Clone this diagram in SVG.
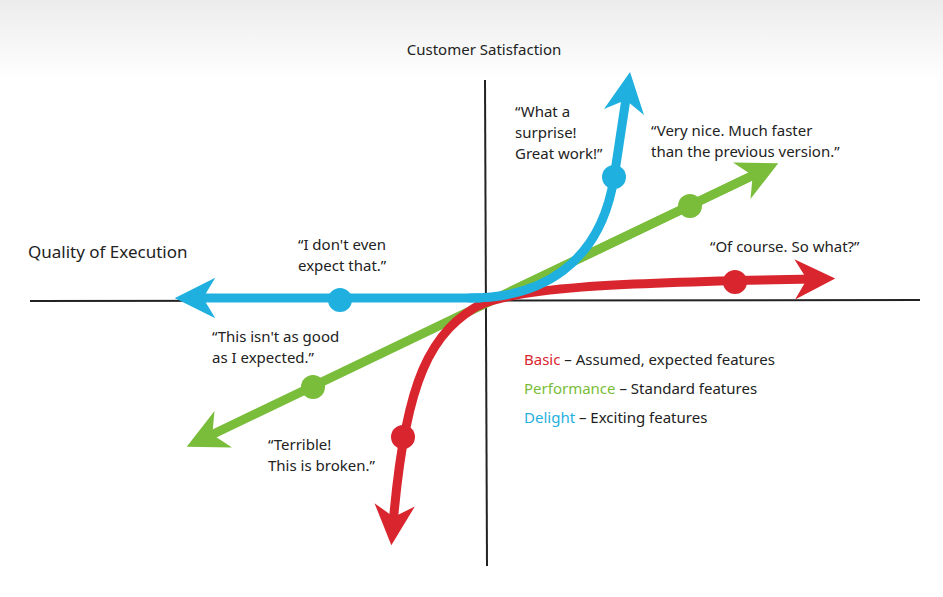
<svg xmlns="http://www.w3.org/2000/svg" width="943" height="597" viewBox="0 0 943 597">
<style>
text{font-family:"Noto Sans","Liberation Sans",sans-serif;font-size:15px;fill:#222}
.ax{stroke:#222;stroke-width:2;fill:none}
.c{fill:none;stroke-width:9;stroke-linecap:round}
</style>
<defs>
<linearGradient id="bg" x1="0" y1="0" x2="0" y2="1"><stop offset="0" stop-color="#ececec"/><stop offset="1" stop-color="#fff"/></linearGradient>
<marker id="mb" viewBox="0 0 10 10" refX="5" refY="5" markerWidth="4.5" markerHeight="4.5" orient="auto" markerUnits="strokeWidth"><path d="M0,0 L10,5 L0,10 L3,5 Z" fill="#1fb0e0"/></marker>
<marker id="mg" viewBox="0 0 10 10" refX="5" refY="5" markerWidth="4.5" markerHeight="4.5" orient="auto" markerUnits="strokeWidth"><path d="M0,0 L10,5 L0,10 L3,5 Z" fill="#79bd3a"/></marker>
<marker id="mr" viewBox="0 0 10 10" refX="5" refY="5" markerWidth="4.5" markerHeight="4.5" orient="auto" markerUnits="strokeWidth"><path d="M0,0 L10,5 L0,10 L3,5 Z" fill="#d9262e"/></marker>
</defs>
<rect width="943" height="597" fill="#fff"/>
<rect width="943" height="80" fill="url(#bg)"/>
<g id="axes">
<line class="ax" x1="30" y1="301" x2="920" y2="300"/>
<line class="ax" x1="485" y1="80" x2="487" y2="566"/>
</g>
<text x="484" y="55" text-anchor="middle" font-size="17">Customer Satisfaction</text>
<text x="28" y="258" style="font-size:17px">Quality of Execution</text>
<g id="connectors">
<path class="c" stroke="#79bd3a" d="M760,172 L205,438" marker-end="url(#mg)" marker-start="url(#mg)" style="marker-start:none"/>
<path class="c" stroke="#79bd3a" d="M480,306 L760,172" marker-end="url(#mg)"/>
<path class="c" stroke="#d9262e" d="M480,305 C520,288 600,283 815,279" marker-end="url(#mr)"/>
<path class="c" stroke="#d9262e" d="M485,302 C430,330 405,380 393,525" marker-end="url(#mr)"/>
<path class="c" stroke="#1fb0e0" d="M480,298 L195,298" marker-end="url(#mb)"/>
<path class="c" stroke="#1fb0e0" d="M470,298 C540,298 600,265 614,178 L627,92" marker-end="url(#mb)"/>
</g>
<g id="dots">
<circle cx="340" cy="300" r="12" fill="#1fb0e0"/>
<circle cx="614" cy="177" r="12" fill="#1fb0e0"/>
<circle cx="313" cy="387" r="12" fill="#79bd3a"/>
<circle cx="690" cy="206" r="12" fill="#79bd3a"/>
<circle cx="735" cy="282" r="12" fill="#d9262e"/>
<circle cx="403" cy="437" r="12" fill="#d9262e"/>
</g>
<g id="labels">
<text x="515" y="117">“What a</text>
<text x="515" y="138">surprise!</text>
<text x="515" y="159">Great work!”</text>
<text x="651" y="136">“Very nice. Much faster</text>
<text x="651" y="157">than the previous version.”</text>
<text x="710" y="252">“Of course. So what?”</text>
<text x="298" y="250">“I don't even</text>
<text x="298" y="271">expect that.”</text>
<text x="212" y="342">“This isn't as good</text>
<text x="212" y="363">as I expected.”</text>
<text x="268" y="450">“Terrible!</text>
<text x="268" y="471">This is broken.”</text>
<text x="524" y="365"><tspan fill="#d9262e">Basic</tspan> – Assumed, expected features</text>
<text x="524" y="394"><tspan fill="#79bd3a">Performance</tspan> – Standard features</text>
<text x="524" y="423"><tspan fill="#1fb0e0">Delight</tspan> – Exciting features</text>
</g>
</svg>
